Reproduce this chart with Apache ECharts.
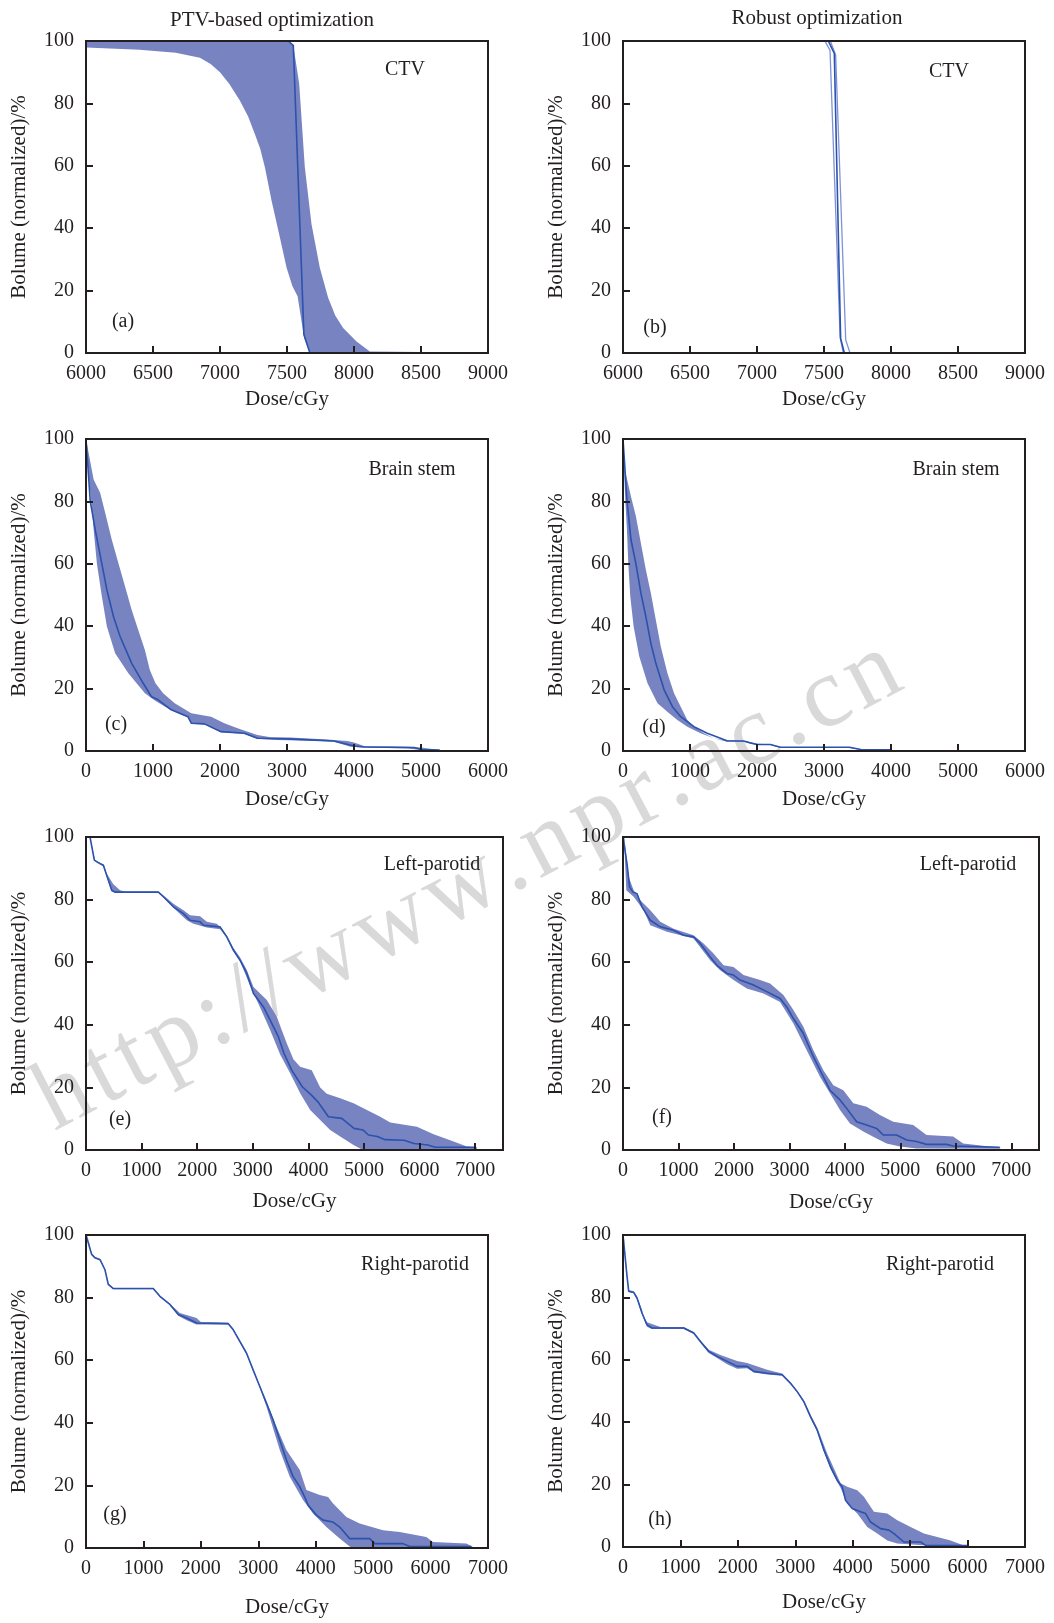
<!DOCTYPE html>
<html>
<head>
<meta charset="utf-8">
<script src="https://cdn.jsdelivr.net/npm/echarts@6/dist/echarts.min.js"></script>
<style>
html, body { margin: 0; padding: 0; background: #fff; }
#chart { width: 1054px; height: 1623px; }
</style>
</head>
<body>
<div id="chart"></div>
<script>
// DVH curves: [dose cGy, volume %]
// (a) CTV, PTV-based
var ptvCtvUpper = [[6000,100],[7500,100],[7547,98.6],[7591,86.3],[7633,59.5],[7683,41.3],[7745,27.3],[7807,17.7],[7860,12],[7919,8],[8019,3.7],[8118,0.5],[8490,0.3]];
var ptvCtvLower = [[6000,97.9],[6400,97.2],[6670,96.2],[6850,94.6],[6930,92.6],[7000,90],[7070,86.2],[7148,80.9],[7210,75.8],[7260,70.2],[7300,65.5],[7335,59.5],[7385,48.8],[7442,38],[7497,27.3],[7540,21.5],[7579,18.2],[7628,4.8],[7671,0],[8490,0]];
var ptvCtvNominal = [[6000,100],[7509,100],[7547,98.6],[7626,5.9],[7671,0],[8500,0]];
// (b) CTV, robust
var robCtvUpper = [[6000,100],[7547,100],[7587,95.5],[7662,4.2],[7694,0]];
var robCtvLower = [[6000,100],[7507,100],[7545,97],[7620,5.2],[7644,0]];
var robCtvNominal = [[6000,100],[7532,100],[7577,96],[7624,4.7],[7652,0]];
// (c) brain stem, PTV-based
var ptvBsUpper = [[0,100],[114,87],[212,82.7],[287,76.3],[385,67.7],[484,60.2],[583,52.7],[682,45.2],[780,38.8],[879,32.4],[953,26],[1037,21.7],[1151,18.5],[1324,15.3],[1571,12.1],[1867,11],[2065,8.9],[2262,7.3],[2558,5.1],[2756,4.4],[3052,4.3],[3600,3.7],[3900,3.2],[4000,2.7],[4150,1.6],[4800,1.4],[5000,1.1],[5280,0.3]];
var ptvBsLower = [[0,100],[40,88],[79,80],[114,70.9],[163,60],[237,49.5],[311,40],[435,31.3],[632,24.9],[879,18.5],[1028,16.2],[1274,13],[1521,10.8],[1571,8.7],[1768,8.5],[2015,6],[2361,5.5],[2558,3.9],[2855,3.5],[3500,3.2],[3700,3],[3950,1.4],[4150,1.1],[4800,0.8],[5000,0.3],[5280,0.2]];
var ptvBsNominal = [[0,100],[64,80],[138,70.9],[237,60],[311,51.7],[410,43.1],[509,36.7],[682,28.1],[854,21.7],[978,17.4],[1077,16.4],[1274,13.2],[1521,11],[1571,8.9],[1768,8.7],[2015,6.2],[2361,5.7],[2558,4.1],[3000,3.9],[3500,3.4],[3700,3.2],[4000,1.6],[4150,1.3],[4900,1.1],[5000,0.5],[5280,0.3]];
// (d) brain stem, robust
var robBsUpper = [[0,100],[30,90],[119,81.6],[193,75.2],[267,66.6],[341,58.1],[416,50.6],[490,42],[564,33.5],[663,24.9],[762,18.5],[861,14.2],[960,9.9],[1059,7.8],[1208,5.7],[1356,4.1],[1505,3.5],[1800,3.3],[2000,2.3],[2200,2.2],[2350,1.3],[3380,1.3],[3550,0.6],[3990,0.4]];
var robBsLower = [[0,100],[20,88],[35,80],[59,70.9],[79,60],[109,49.5],[158,40],[243,30.3],[366,21.7],[515,15.3],[688,12.1],[812,9.9],[960,7.8],[1158,5.7],[1356,4.1],[1554,3],[1800,3],[2000,1.9],[2200,1.9],[2350,1],[3380,1],[3550,0.3],[3990,0.2]];
var robBsNominal = [[0,100],[59,80.5],[119,67.7],[193,60],[267,50.6],[341,43.1],[416,34.5],[490,28.1],[614,19.6],[738,14.2],[861,11],[1059,7.8],[1257,5.7],[1455,4.1],[1550,3.3],[1800,3.2],[1900,2.6],[2000,2.1],[2200,2.1],[2350,1.2],[3380,1.2],[3550,0.5],[3990,0.4]];
// (e) left parotid, PTV-based
var ptvLpUpper = [[0,100],[72,100],[162,92.6],[252,91.8],[320,91.2],[372,88.3],[492,84.9],[612,83],[700,82.6],[1302,82.6],[1400,81.2],[1572,78.7],[1752,76.6],[1872,75],[2052,74.7],[2172,72.9],[2352,72.3],[2442,70.7],[2532,68.5],[2652,64.5],[2772,61.5],[2892,57.5],[3012,52.1],[3252,47.9],[3432,42.6],[3520,38.3],[3612,34],[3730,29],[3852,26.6],[4060,25.5],[4212,20],[4330,18],[4572,16.5],[4812,14.9],[5052,12.8],[5292,10.6],[5472,8.8],[5952,7.4],[6252,5],[6612,2.7],[6852,1.1],[7030,0.9]];
var ptvLpLower = [[0,100],[72,100],[150,92.3],[252,91.2],[312,90.6],[372,87.3],[462,82.6],[522,82.2],[1302,82.2],[1392,80.7],[1572,77.4],[1812,73.4],[1932,72.3],[2172,71.1],[2412,70.5],[2532,67.8],[2652,63.5],[2772,60.2],[2952,52.5],[3132,45.5],[3312,38.3],[3492,30.5],[3672,24.5],[3852,18.1],[4032,12.8],[4212,9.6],[4392,6.4],[4572,4.3],[4812,1.6],[4980,0],[7030,0]];
var ptvLpNominal = [[0,100],[72,100],[150,92.6],[252,91.5],[312,91],[372,87.8],[462,83],[522,82.4],[1302,82.4],[1392,80.9],[1572,77.7],[1752,75.5],[1872,73.4],[2052,72.9],[2112,71.8],[2412,71.3],[2532,68.1],[2652,63.8],[2772,60.6],[2892,56.4],[3012,50],[3192,45.7],[3312,41.5],[3460,36.2],[3560,30.9],[3700,25.5],[3890,20.2],[4050,17.6],[4180,15.2],[4360,10.6],[4600,10.1],[4820,6.9],[4980,6.4],[5080,4.8],[5240,4.3],[5380,3.3],[5720,3.1],[5900,2.1],[6150,1.6],[6280,0.9],[7000,0.9]];
// (f) left parotid, robust
var robLpUpper = [[0,100],[24,100],[102,87.2],[192,83],[312,79.8],[492,76.6],[672,72.9],[912,70.7],[1272,68.6],[1452,66],[1632,62.8],[1812,59],[1992,58.5],[2172,55.9],[2472,54.3],[2652,53.2],[2892,49.5],[3072,44.7],[3252,39.4],[3432,31.9],[3612,25.5],[3792,20.7],[3972,19.1],[4152,14.9],[4392,13.8],[4632,11.2],[4872,9],[5232,8],[5472,4.8],[5952,4.3],[6132,2.1],[6612,1.1],[6800,0.9]];
var robLpLower = [[0,100],[20,99],[60,83],[192,80.9],[372,76.6],[492,71.8],[792,69.7],[1272,67.6],[1572,60.6],[1752,57.4],[1992,54.3],[2232,51.6],[2532,50],[2832,47.3],[3072,40.4],[3312,31.9],[3552,23.4],[3732,18.1],[3912,12.8],[4092,8.5],[4332,5.9],[4572,3.7],[4752,2.1],[4992,1.1],[5292,0.5],[6800,0.4]];
var robLpNominal = [[0,100],[24,99.5],[72,91.5],[120,84],[180,82.4],[252,81.9],[342,77.7],[492,73.4],[672,71.3],[912,70.2],[1092,68.6],[1272,68.1],[1392,66],[1572,61.7],[1692,59],[1872,56.4],[1992,55.9],[2112,54.3],[2352,52.7],[2592,50.6],[2832,48.4],[2952,45.7],[3072,42],[3252,37.2],[3432,29.8],[3612,23.4],[3732,19.1],[3912,16],[4032,13.3],[4212,9],[4392,8],[4572,6.9],[4692,4.8],[4932,4.8],[5112,3.2],[5292,2.7],[5472,1.8],[5832,1.8],[5952,1.3],[6792,0.9]];
// (g) right parotid, PTV-based
var ptvRpUpper = [[0,100],[23,100],[99,94],[157,93],[244,92.4],[330,89.2],[388,84.5],[476,83.1],[1171,83.1],[1287,80.6],[1461,78],[1635,75.1],[1925,73.5],[2000,72.2],[2475,72],[2562,70],[2794,62.6],[2910,57.2],[3026,52],[3142,46.8],[3258,41.5],[3316,38.8],[3490,31.3],[3722,24.9],[3838,18.5],[4070,16.9],[4215,16.3],[4302,14.2],[4534,9.9],[4766,7.8],[5172,5.7],[5462,5.1],[5926,3.5],[6042,1.9],[6622,1.4],[6728,0.5]];
var ptvRpLower = [[0,100],[23,99.8],[99,93.6],[157,92.5],[244,91.9],[330,88.7],[388,84],[476,82.7],[1171,82.7],[1287,80.2],[1461,77.6],[1606,74.2],[1751,72.8],[1925,71.4],[2475,71.4],[2562,69.5],[2794,62],[2910,56.6],[3026,51.3],[3142,45.2],[3374,31.3],[3548,22.8],[3780,15.3],[3954,11],[4186,6.7],[4418,3],[4592,0.5],[4650,0],[6728,0]];
var ptvRpNominal = [[0,100],[23,100],[99,93.8],[157,92.7],[244,92.1],[330,88.9],[388,84.2],[476,82.9],[1171,82.9],[1287,80.4],[1461,77.8],[1606,74.6],[1751,73.5],[1925,71.9],[2475,71.7],[2562,69.8],[2794,62.3],[2910,56.9],[3026,51.6],[3142,46.3],[3258,40.9],[3374,34.5],[3490,28.1],[3606,22.8],[3722,19.6],[3809,16.3],[3867,13.7],[4012,10.5],[4128,8.9],[4302,8.3],[4418,6.7],[4592,3],[4940,3],[5027,1.4],[5520,1.4],[5636,0.5],[6711,0.5]];
// (h) right parotid, robust
var robRpUpper = [[0,100],[12,100],[70,87.2],[99,82.4],[186,82],[244,80.3],[331,76],[360,73.8],[418,72],[651,70.5],[1057,70.5],[1232,68.9],[1348,66.2],[1493,63.2],[1697,61.5],[1987,59.6],[2162,59],[2510,56.8],[2771,55.6],[2917,52.8],[3033,50.1],[3149,47],[3265,42.4],[3381,38.3],[3556,30],[3789,20.4],[3905,19.3],[4079,18.2],[4195,16.1],[4369,11.3],[4601,10.7],[4776,8.6],[5008,6.4],[5240,4.3],[5472,3.2],[5704,2.1],[5937,0.5]];
var robRpLower = [[0,100],[12,99.4],[70,86.4],[99,81.7],[186,81.3],[244,79.4],[331,74.5],[418,70.6],[505,69.9],[1057,69.9],[1232,68.3],[1348,65.5],[1493,62.2],[1639,60.6],[1813,58.6],[1987,57.1],[2162,57.3],[2278,55.9],[2510,55.3],[2771,54.9],[2917,52.2],[3033,49.5],[3149,46.2],[3265,41.3],[3381,37],[3498,30.5],[3614,25],[3730,20.8],[3789,19],[3905,13.9],[4079,10.7],[4253,6.4],[4427,4.3],[4601,2.1],[4776,1.1],[5298,0.5],[5996,0.2]];
var robRpNominal = [[0,100],[12,99.7],[70,86.8],[99,82],[186,81.6],[244,79.8],[331,75],[418,71.2],[505,70.2],[1057,70.2],[1232,68.6],[1348,65.9],[1493,62.7],[1639,61.1],[1813,59.5],[1987,57.9],[2162,57.9],[2278,56.3],[2510,55.7],[2771,55.2],[2917,52.5],[3033,49.8],[3149,46.6],[3265,41.8],[3381,37.5],[3498,31.1],[3614,25.7],[3730,21.4],[3817,19.3],[3875,15],[3991,12.3],[4137,11.3],[4224,10.7],[4311,8],[4485,5.9],[4631,5.4],[4718,4.3],[4892,1.6],[5182,1.6],[5270,0.5],[5996,0.5]];

var columnTitles = ['PTV-based optimization', 'Robust optimization'];
var organNames = ['CTV', 'Brain stem', 'Left-parotid', 'Right-parotid'];
var panelTags = ['(a)', '(b)', '(c)', '(d)', '(e)', '(f)', '(g)', '(h)'];
var volumeTicks = [0, 100, 20];
var xName = 'Dose/cGy';
var yName = 'Bolume (normalized)/%';
var watermark = 'http://www.npr.ac.cn';

var FONT = '"Liberation Serif", "DejaVu Serif", serif';
var INK = '#231f20';
var BAND = '#7883c1';
var LINE = '#2b52ad';
var EDGE = '#7f92d8';

// layout: box = [left, top, width, height]; x = [min, max, step, last label]
var panels = [
  { box: [86, 41, 402, 312],   x: [6000, 9000, 500, 9000], gap: 36, organAt: [405, 70],   tagAt: [123, 322],  upper: ptvCtvUpper, lower: ptvCtvLower, nominal: ptvCtvNominal, fill: true },
  { box: [623, 41, 402, 312],  x: [6000, 9000, 500, 9000], gap: 36, organAt: [949, 72],   tagAt: [655, 328],  upper: robCtvUpper, lower: robCtvLower, nominal: robCtvNominal, fill: false },
  { box: [86, 439, 402, 312],  x: [0, 6000, 1000, 6000],   gap: 38, organAt: [412, 470],  tagAt: [116, 725],  upper: ptvBsUpper, lower: ptvBsLower, nominal: ptvBsNominal, fill: true },
  { box: [623, 439, 402, 312], x: [0, 6000, 1000, 6000],   gap: 38, organAt: [956, 470],  tagAt: [654, 728],  upper: robBsUpper, lower: robBsLower, nominal: robBsNominal, fill: true },
  { box: [86, 837, 417, 313],  x: [0, 7500, 1000, 7000],   gap: 41, organAt: [432, 865],  tagAt: [120, 1120], upper: ptvLpUpper, lower: ptvLpLower, nominal: ptvLpNominal, fill: true },
  { box: [623, 837, 416, 313], x: [0, 7500, 1000, 7000],   gap: 42, organAt: [968, 865],  tagAt: [662, 1118], upper: robLpUpper, lower: robLpLower, nominal: robLpNominal, fill: true },
  { box: [86, 1235, 402, 313], x: [0, 7000, 1000, 7000],   gap: 49, organAt: [415, 1265], tagAt: [115, 1515], upper: ptvRpUpper, lower: ptvRpLower, nominal: ptvRpNominal, fill: true },
  { box: [623, 1235, 402, 312], x: [0, 7000, 1000, 7000],  gap: 45, organAt: [940, 1265], tagAt: [660, 1520], upper: robRpUpper, lower: robRpLower, nominal: robRpNominal, fill: true }
];

function label(text, x, y, size) {
  return {
    type: 'text', x: x, y: y, z: 20, silent: true,
    style: { text: text, fill: INK, fontFamily: FONT, fontSize: size || 20, align: 'center', verticalAlign: 'middle' }
  };
}

function bandSeries(i, upper, lower) {
  var outline = upper.concat(lower.slice().reverse());
  return {
    type: 'custom', coordinateSystem: 'cartesian2d', xAxisIndex: i, yAxisIndex: i,
    silent: true, z: 3, data: outline,
    renderItem: function (params, api) {
      if (params.dataIndex !== 0) return null;
      var pts = outline.map(function (p) { return api.coord(p); });
      return { type: 'polygon', shape: { points: pts }, style: { fill: BAND, stroke: null } };
    }
  };
}

function lineSeries(i, data, color, width, z) {
  return {
    type: 'line', xAxisIndex: i, yAxisIndex: i, data: data, silent: true,
    showSymbol: false, symbol: 'none', z: z,
    lineStyle: { color: color, width: width }
  };
}

// watermark: letters laid out one by one with a little extra spacing
function watermarkGroup(text, x, y, angle, size, spacing) {
  var ctx = document.createElement('canvas').getContext('2d');
  ctx.font = size + 'px "Liberation Serif"';
  var pos = 0, kids = [];
  text.split('').forEach(function (ch) {
    kids.push({
      type: 'text', x: pos, y: 0, silent: true,
      style: { text: ch, fill: 'rgba(150,150,150,0.36)', fontFamily: FONT, fontSize: size, align: 'left', verticalAlign: 'middle' }
    });
    pos += ctx.measureText(ch).width + spacing;
  });
  return { type: 'group', x: x, y: y, rotation: angle, z: 30, silent: true, children: kids };
}

var grids = [], xAxes = [], yAxes = [], series = [], graphics = [];
var axisText = { color: INK, fontFamily: FONT, fontSize: 20 };
var nameText = { color: INK, fontFamily: FONT, fontSize: 21 };

panels.forEach(function (p, i) {
  grids.push({
    left: p.box[0], top: p.box[1], width: p.box[2], height: p.box[3],
    show: true, borderColor: INK, borderWidth: 2, backgroundColor: 'transparent',
    containLabel: false, outerBoundsMode: 'none', z: 10
  });
  var lastLabel = p.x[3];
  xAxes.push({
    gridIndex: i, type: 'value', min: p.x[0], max: p.x[1], interval: p.x[2], z: 10,
    axisLine: { show: true, onZero: false, lineStyle: { color: INK, width: 2 } },
    axisTick: { show: true, inside: true, length: 7, lineStyle: { color: INK, width: 2 } },
    axisLabel: Object.assign({ margin: 11, formatter: function (v) { return v > lastLabel ? '' : String(v); } }, axisText),
    splitLine: { show: false },
    name: xName, nameLocation: 'middle', nameGap: p.gap, nameTextStyle: nameText
  });
  yAxes.push({
    gridIndex: i, type: 'value', min: volumeTicks[0], max: volumeTicks[1], interval: volumeTicks[2], z: 10,
    axisLine: { show: true, onZero: false, lineStyle: { color: INK, width: 2 } },
    axisTick: { show: true, inside: true, length: 7, lineStyle: { color: INK, width: 2 } },
    axisLabel: Object.assign({ margin: 12 }, axisText),
    splitLine: { show: false },
    name: yName, nameLocation: 'middle', nameGap: 56, nameTextStyle: nameText
  });
  if (p.fill) {
    series.push(bandSeries(i, p.upper, p.lower));
  } else {
    series.push(lineSeries(i, p.upper, EDGE, 1.3, 4));
    series.push(lineSeries(i, p.lower, EDGE, 1.3, 4));
  }
  series.push(lineSeries(i, p.nominal, LINE, 1.6, 5));
  graphics.push(label(organNames[Math.floor(i / 2)], p.organAt[0], p.organAt[1], 20));
  graphics.push(label(panelTags[i], p.tagAt[0], p.tagAt[1], 20));
});

graphics.push(label(columnTitles[0], 272, 20, 21));
graphics.push(label(columnTitles[1], 817, 18, 21));
graphics.push(watermarkGroup(watermark, 42, 1108, 0.48, 100, 6));

var chart = echarts.init(document.getElementById('chart'), null, { renderer: 'canvas' });
chart.setOption({
  animation: false,
  backgroundColor: '#ffffff',
  textStyle: { fontFamily: FONT },
  grid: grids,
  xAxis: xAxes,
  yAxis: yAxes,
  series: series,
  graphic: graphics
});
</script>
</body>
</html>
